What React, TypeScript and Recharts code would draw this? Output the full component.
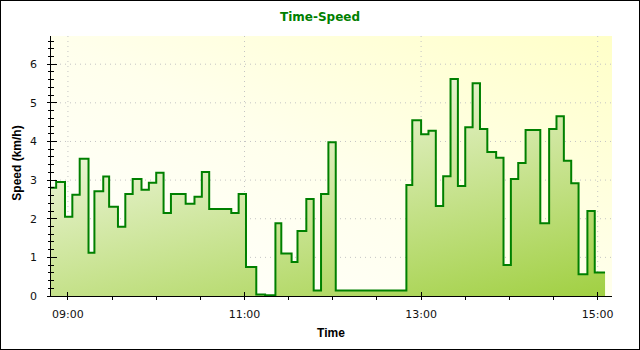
import React from 'react';
import { ComposedChart, Area, XAxis, YAxis, CartesianGrid } from 'recharts';

// samples: time of day -> speed (km/h), step line
const times = [
    '08:48', '08:52', '08:58', '09:03', '09:08', '09:14', '09:18', '09:24', '09:28', '09:34',
    '09:39', '09:44', '09:50', '09:55', '10:00', '10:05', '10:10', '10:20', '10:26', '10:31',
    '10:36', '10:51', '10:56', '11:01', '11:08', '11:14', '11:21', '11:25', '11:32', '11:36',
    '11:42', '11:47', '11:52', '11:57', '12:02', '12:50', '12:54', '13:00', '13:05', '13:10',
    '13:15', '13:20', '13:25', '13:30', '13:35', '13:40', '13:45', '13:51', '13:56', '14:01',
    '14:06', '14:11', '14:21', '14:27', '14:32', '14:37', '14:42', '14:47', '14:53', '14:58',
    '15:05',
];
const speeds = [
    2.80, 2.95, 2.05, 2.62, 3.55, 1.12, 2.71, 3.09, 2.31, 1.79,
    2.64, 3.03, 2.75, 2.93, 3.19, 2.15, 2.64, 2.39, 2.57, 3.21,
    2.25, 2.15, 2.64, 0.75, 0.04, 0.02, 1.88, 1.10, 0.88, 1.68,
    2.51, 0.14, 2.64, 3.98, 0.14, 2.87, 4.55, 4.19, 4.28, 2.33,
    3.10, 5.62, 2.85, 4.37, 5.51, 4.32, 3.73, 3.58, 0.80, 3.03,
    3.44, 4.30, 1.88, 4.32, 4.65, 3.50, 2.92, 0.56, 2.20, 0.61,
    0.61,
];

const xMajorTicks = ['09:00', '11:00', '13:00', '15:00'];
const xMinorTicks = ['09:30', '10:00', '10:30', '11:30', '12:00', '12:30', '13:30', '14:00', '14:30'];
const yMajorTicks = [0, 1, 2, 3, 4, 5, 6];
const yMinorStep = 0.2;
const xDomain = [8.797, 15.162];
const yDomain = [0, 6.73];

const toHours = (s: string) => {
    const [h, m] = s.split(':').map(Number);
    return h + m / 60;
};
const fmtTime = (v: number) => {
    const h = Math.floor(v + 1e-6);
    const m = Math.round((v - h) * 60);
    return `${String(h).padStart(2, '0')}:${String(m).padStart(2, '0')}`;
};

const data = times.map((t, i) => ({ t: toHours(t), speed: speeds[i] }));
const xMajor = xMajorTicks.map(toHours);
const xTicks = [...xMajor, ...xMinorTicks.map(toHours)].sort((a, b) => a - b);
const yTicks: number[] = [];
for (let i = 0; i * yMinorStep <= yDomain[1]; i++) yTicks.push(Number((i * yMinorStep).toFixed(1)));

const isMajorX = (v: number) => xMajor.some((m) => Math.abs(m - v) < 1e-6);
const isMajorY = (v: number) => yMajorTicks.some((m) => Math.abs(m - v) < 1e-6);

const tickFont = { fontFamily: 'DejaVu Sans', fontSize: 11, fill: '#111' };
const crisp = { shapeRendering: 'crispEdges' as const };

const BottomTick = ({ x, y, payload }: any) => {
    const major = isMajorX(payload.value);
    return (
        <g>
            <line x1={x} x2={x} y1={major ? y - 4 : y} y2={y + 4} stroke="#000" {...crisp} />
            {major && (
                <text x={x} y={y + 22} textAnchor="middle" {...tickFont}>{fmtTime(payload.value)}</text>
            )}
        </g>
    );
};

const TopTick = ({ x, y }: any) => (
    <line x1={x} x2={x} y1={y} y2={y + 4} stroke="#000" {...crisp} />
);

const LeftTick = ({ x, y, payload }: any) => {
    const major = isMajorY(payload.value);
    return (
        <g>
            <line x1={x - (major ? 3 : 2)} x2={x + (major ? 7 : 4)} y1={y} y2={y} stroke="#000" {...crisp} />
            {major && (
                <text x={x - 13} y={y + 4} textAnchor="end" {...tickFont}>{payload.value}</text>
            )}
        </g>
    );
};

const RightTick = ({ x, y, payload }: any) => {
    const major = isMajorY(payload.value);
    return <line x1={x - (major ? 5 : 3)} x2={x} y1={y} y2={y} stroke="#000" {...crisp} />;
};

const axisLine = { stroke: '#000', ...crisp };

const App = () => {
    return (
        <div style={{ position: 'relative', width: 640, height: 350, background: '#fff' }}>
            <style>{'body{margin:0}'}</style>
            <ComposedChart
                width={640}
                height={350}
                data={data}
                margin={{ top: 36, right: 28, bottom: 24, left: 20 }}
            >
                <CartesianGrid
                    fill="url(#plotBg)"
                    fillOpacity={1}
                    stroke="#c4c4c4"
                    strokeDasharray="1 4"
                    horizontalValues={yMajorTicks.slice(1)}
                    verticalValues={xMajor}
                />
                <XAxis
                    dataKey="t"
                    type="number"
                    domain={xDomain}
                    allowDataOverflow
                    ticks={xTicks}
                    interval={0}
                    height={30}
                    tickSize={0}
                    tickMargin={0}
                    tickLine={false}
                    axisLine={axisLine}
                    tick={(p: any) => <BottomTick {...p} />}
                />
                <XAxis
                    xAxisId="top"
                    orientation="top"
                    type="number"
                    domain={xDomain}
                    allowDataOverflow
                    ticks={xTicks}
                    interval={0}
                    height={0}
                    tickSize={0}
                    tickMargin={0}
                    tickLine={false}
                    axisLine={axisLine}
                    tick={(p: any) => <TopTick {...p} />}
                />
                <YAxis
                    type="number"
                    domain={yDomain}
                    allowDataOverflow
                    ticks={yTicks}
                    interval={0}
                    width={30}
                    tickSize={0}
                    tickMargin={0}
                    tickLine={false}
                    axisLine={axisLine}
                    tick={(p: any) => <LeftTick {...p} />}
                />
                <YAxis
                    yAxisId="right"
                    orientation="right"
                    type="number"
                    domain={yDomain}
                    allowDataOverflow
                    ticks={yTicks}
                    interval={0}
                    width={0}
                    tickSize={0}
                    tickMargin={0}
                    tickLine={false}
                    axisLine={axisLine}
                    tick={(p: any) => <RightTick {...p} />}
                />
                <Area
                    type="stepAfter"
                    dataKey="speed"
                    stroke="#008000"
                    strokeWidth={2}
                    fill="url(#areaFill)"
                    fillOpacity={1}
                    dot={false}
                    activeDot={false}
                    isAnimationActive={false}
                />
            </ComposedChart>
            <svg
                width={640}
                height={350}
                style={{ position: 'absolute', left: 0, top: 0, pointerEvents: 'none' }}
            >
                <defs>
                    <linearGradient id="plotBg" x1="0" y1="1" x2="1" y2="0">
                        <stop offset="0" stopColor="#ffffff" />
                        <stop offset="0.5" stopColor="#ffffec" />
                        <stop offset="1" stopColor="#ffffc8" />
                    </linearGradient>
                    <linearGradient id="areaFill" gradientUnits="userSpaceOnUse" x1="71" y1="123" x2="146" y2="434">
                        <stop offset="0" stopColor="#f3f8e6" />
                        <stop offset="1" stopColor="#99cc33" />
                    </linearGradient>
                </defs>
                <rect x={0.5} y={0.5} width={639} height={349} fill="none" stroke="#000" />
                <text x={320} y={21} textAnchor="middle" fontFamily="DejaVu Sans" fontWeight="bold" fontSize={12} fill="#008000">
                    Time-Speed
                </text>
                <text x={331} y={337} textAnchor="middle" fontFamily="Liberation Sans" fontWeight="bold" fontSize={12} fill="#000">
                    Time
                </text>
                <text
                    transform="translate(21,163) rotate(-90)"
                    textAnchor="middle"
                    fontFamily="Liberation Sans"
                    fontWeight="bold"
                    fontSize={12}
                    fill="#000"
                >
                    Speed (km/h)
                </text>
            </svg>
        </div>
    );
};

export default App;
